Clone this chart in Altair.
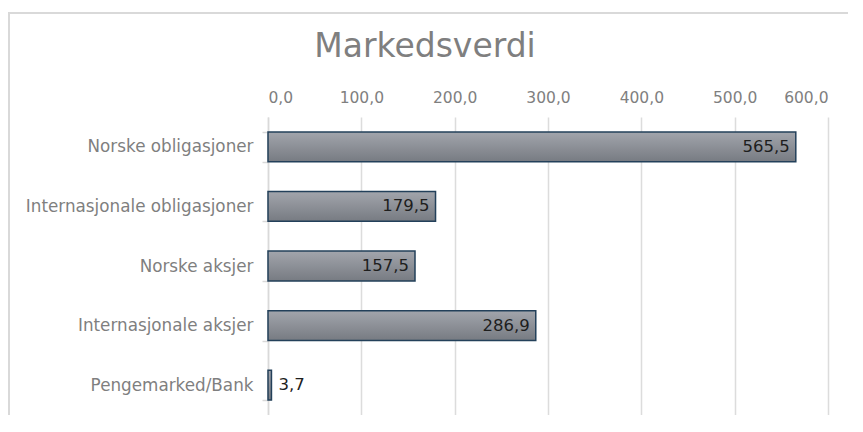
import altair as alt
import pandas as pd

categories = ["Norske obligasjoner", "Internasjonale obligasjoner", "Norske aksjer",
              "Internasjonale aksjer", "Pengemarked/Bank"]
values = [565.5, 179.5, 157.5, 286.9, 3.7]
x_ticks = [0, 100, 200, 300, 400, 500, 600]
title_text = "Markedsverdi"

df = pd.DataFrame({"kategori": categories, "verdi": values})
df["etikett"] = [f"{v:.1f}".replace(".", ",") for v in values]
df["inne"] = df["verdi"] > 50

W, H = 560, 298
FONT = "DejaVu Sans"

x_enc = alt.X("verdi:Q",
              scale=alt.Scale(domain=[0, 600], nice=False),
              axis=alt.Axis(orient="top", values=x_ticks, domain=False, ticks=False,
                            labelExpr="replace(format(datum.value, '.1f'), '.', ',')",
                            labelFont=FONT, labelFontSize=15.5, labelColor="#7f7f7f",
                            labelPadding=12, grid=True, gridColor="#dcdcdc",
                            gridWidth=1.5, title=None))
y_enc = alt.Y("kategori:N", sort=categories,
              scale=alt.Scale(paddingInner=0.5, paddingOuter=0.25),
              axis=alt.Axis(domain=True, domainColor="#d9d9d9", domainWidth=1.5,
                            ticks=True, tickBand="extent", tickSize=6,
                            tickColor="#d9d9d9", tickWidth=1.5,
                            labelFont=FONT, labelFontSize=16.8, labelColor="#7f7f7f",
                            labelPadding=9, labelLimit=400, title=None))

grad = alt.Gradient(gradient="linear",
                    stops=[alt.GradientStop(color="#a2a5ac", offset=0),
                           alt.GradientStop(color="#777b82", offset=1)],
                    x1=0, x2=0, y1=0, y2=1)

bars = alt.Chart(df).mark_bar(fill=grad, stroke="#23405a", strokeWidth=1.5).encode(
    x=x_enc, y=y_enc)

inside = alt.Chart(df).transform_filter("datum.inne").mark_text(
    align="right", baseline="middle", dx=-6, font=FONT, fontSize=16.5, color="#1e1e1e"
).encode(x="verdi:Q", y=alt.Y("kategori:N", sort=categories), text="etikett:N")

outside = alt.Chart(df).transform_filter("!datum.inne").mark_text(
    align="left", baseline="middle", dx=7, font=FONT, fontSize=16.5, color="#1e1e1e"
).encode(x="verdi:Q", y=alt.Y("kategori:N", sort=categories), text="etikett:N")

frame = alt.Chart(df).mark_rect(fill="transparent", stroke="#d9d9d9", strokeWidth=1.5).encode(
    x=alt.value(-259), x2=alt.value(W + 200), y=alt.value(-104), y2=alt.value(H + 200))

title = alt.Chart(pd.DataFrame({"t": [title_text]})).mark_text(
    font=FONT, fontSize=33, color="#7f7f7f", align="center", baseline="middle"
).encode(text="t:N", x=alt.value(157), y=alt.value(-70))

chart = alt.layer(frame, bars, inside, outside, title).properties(
    width=W, height=H,
    autosize=alt.AutoSizeParams(type="none"),
    padding={"left": 260, "top": 109, "right": 20, "bottom": 0},
).configure_view(stroke=None)

chart.save("out.html", embed_options={"renderer": "svg", "actions": False})
